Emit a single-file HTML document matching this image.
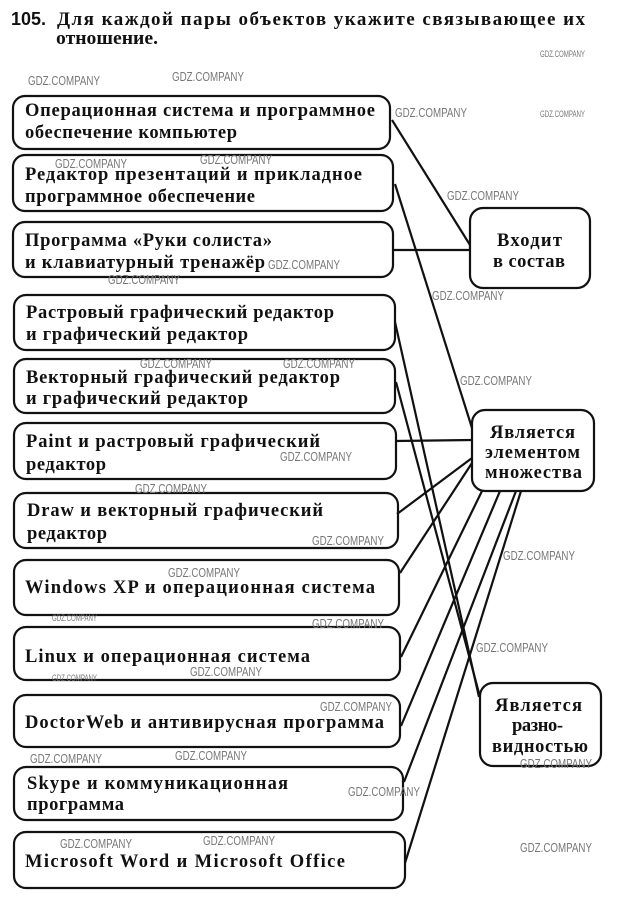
<!DOCTYPE html>
<html>
<head>
<meta charset="utf-8">
<style>
html,body{margin:0;padding:0;background:#fff;}
svg{display:block;}
.t{font-family:"Liberation Serif","Noto Serif CJK SC",serif;font-weight:bold;font-size:18.5px;fill:#111;}
.r{font-family:"Liberation Serif","Noto Serif CJK SC",serif;font-weight:bold;font-size:18.5px;fill:#111;}
.hd{font-family:"Liberation Serif","Noto Serif CJK SC",serif;font-weight:bold;font-size:19px;fill:#111;}
.h{font-family:"Liberation Sans",sans-serif;font-weight:bold;font-size:18px;fill:#111;}
.w{font-family:"Liberation Sans",sans-serif;font-size:13px;fill:#777;}
.ws{font-family:"Liberation Sans",sans-serif;font-size:9px;fill:#777;}
rect{fill:none;stroke:#111;stroke-width:2.2;}
line{stroke:#111;stroke-width:2.2;}
</style>
</head>
<body>
<svg width="624" height="905" viewBox="0 0 624 905" xmlns="http://www.w3.org/2000/svg">
<!-- Header -->
<text class="h" x="11" y="25" textLength="35" lengthAdjust="spacingAndGlyphs">105.</text>
<text class="hd" x="57" y="25" textLength="528" lengthAdjust="spacing">Для каждой пары объектов укажите связывающее их</text>
<text class="hd" x="56" y="44" textLength="102" lengthAdjust="spacingAndGlyphs">отношение.</text>

<!-- Left boxes -->
<rect x="13" y="96" width="377" height="53" rx="12"/>
<rect x="13" y="155" width="380" height="56" rx="12"/>
<rect x="13" y="222" width="380" height="55" rx="12"/>
<rect x="14" y="295" width="381" height="55" rx="12"/>
<rect x="14" y="359" width="381" height="54" rx="12"/>
<rect x="14" y="423" width="382" height="56" rx="12"/>
<rect x="14" y="493" width="384" height="55" rx="12"/>
<rect x="14" y="560" width="385" height="55" rx="12"/>
<rect x="14" y="627" width="386" height="53" rx="12"/>
<rect x="14" y="695" width="386" height="52" rx="12"/>
<rect x="14" y="767" width="389" height="53" rx="12"/>
<rect x="14" y="832" width="391" height="56" rx="12"/>

<!-- Right boxes -->
<rect x="470" y="208" width="120" height="80" rx="13"/>
<rect x="472" y="410" width="122" height="81" rx="13"/>
<rect x="480" y="683" width="121" height="83" rx="13"/>

<!-- Left box texts -->
<text class="t" x="25" y="116" textLength="350" lengthAdjust="spacing">Операционная система и программное</text>
<text class="t" x="25" y="138" textLength="212" lengthAdjust="spacing">обеспечение компьютер</text>

<text class="t" x="25" y="180" textLength="337" lengthAdjust="spacing">Редактор презентаций и прикладное</text>
<text class="t" x="25" y="202" textLength="230" lengthAdjust="spacing">программное обеспечение</text>

<text class="t" x="25" y="246" textLength="247" lengthAdjust="spacing">Программа «Руки солиста»</text>
<text class="t" x="25" y="268" textLength="240" lengthAdjust="spacing">и клавиатурный тренажёр</text>

<text class="t" x="26" y="318" textLength="308" lengthAdjust="spacing">Растровый графический редактор</text>
<text class="t" x="26" y="340" textLength="222" lengthAdjust="spacing">и графический редактор</text>

<text class="t" x="26" y="383" textLength="314" lengthAdjust="spacing">Векторный графический редактор</text>
<text class="t" x="26" y="404" textLength="222" lengthAdjust="spacing">и графический редактор</text>

<text class="t" x="26" y="447" textLength="294" lengthAdjust="spacing">Paint и растровый графический</text>
<text class="t" x="26" y="470" textLength="80" lengthAdjust="spacing">редактор</text>

<text class="t" x="27" y="516" textLength="296" lengthAdjust="spacing">Draw и векторный графический</text>
<text class="t" x="27" y="539" textLength="80" lengthAdjust="spacing">редактор</text>

<text class="t" x="25" y="593" textLength="350" lengthAdjust="spacing">Windows XP и операционная система</text>

<text class="t" x="25" y="662" textLength="285" lengthAdjust="spacing">Linux и операционная система</text>

<text class="t" x="25" y="728" textLength="359" lengthAdjust="spacing">DoctorWeb и антивирусная программа</text>

<text class="t" x="27" y="789" textLength="261" lengthAdjust="spacing">Skype и коммуникационная</text>
<text class="t" x="27" y="810" textLength="97" lengthAdjust="spacing">программа</text>

<text class="t" x="25" y="867" textLength="320" lengthAdjust="spacing">Microsoft Word и Microsoft Office</text>

<!-- Right box texts -->
<text class="r" x="497" y="246" textLength="65" lengthAdjust="spacing">Входит</text>
<text class="r" x="493" y="267" textLength="72" lengthAdjust="spacing">в состав</text>

<text class="r" x="490" y="438" textLength="85" lengthAdjust="spacing">Является</text>
<text class="r" x="485" y="458" textLength="95" lengthAdjust="spacing">элементом</text>
<text class="r" x="485" y="478" textLength="97" lengthAdjust="spacing">множества</text>

<text class="r" x="495" y="711" textLength="87" lengthAdjust="spacing">Является</text>
<text class="r" x="512" y="731" textLength="51" lengthAdjust="spacing">разно-</text>
<text class="r" x="492" y="752" textLength="96" lengthAdjust="spacing">видностью</text>

<!-- Connectors -->
<line x1="392" y1="120" x2="470" y2="245"/>
<line x1="393" y1="250" x2="470" y2="250"/>
<line x1="395" y1="184" x2="472" y2="428"/>
<line x1="395" y1="441" x2="472" y2="440"/>
<line x1="397" y1="514" x2="472" y2="458"/>
<line x1="400" y1="573" x2="472" y2="463"/>
<line x1="395" y1="322" x2="479" y2="697"/>
<line x1="396" y1="382" x2="480" y2="697"/>
<line x1="482" y1="491" x2="401" y2="657"/>
<line x1="500" y1="491" x2="401" y2="726"/>
<line x1="516" y1="491" x2="404" y2="782"/>
<line x1="521" y1="491" x2="405" y2="863"/>

<!-- Watermarks -->
<text class="w" x="28" y="85" textLength="72" lengthAdjust="spacingAndGlyphs">GDZ.COMPANY</text>
<text class="w" x="172" y="81" textLength="72" lengthAdjust="spacingAndGlyphs">GDZ.COMPANY</text>
<text class="w" x="395" y="117" textLength="72" lengthAdjust="spacingAndGlyphs">GDZ.COMPANY</text>
<text class="w" x="55" y="168" textLength="72" lengthAdjust="spacingAndGlyphs">GDZ.COMPANY</text>
<text class="w" x="200" y="164" textLength="72" lengthAdjust="spacingAndGlyphs">GDZ.COMPANY</text>
<text class="w" x="447" y="200" textLength="72" lengthAdjust="spacingAndGlyphs">GDZ.COMPANY</text>
<text class="w" x="268" y="269" textLength="72" lengthAdjust="spacingAndGlyphs">GDZ.COMPANY</text>
<text class="w" x="108" y="284" textLength="72" lengthAdjust="spacingAndGlyphs">GDZ.COMPANY</text>
<text class="w" x="432" y="300" textLength="72" lengthAdjust="spacingAndGlyphs">GDZ.COMPANY</text>
<text class="w" x="140" y="368" textLength="72" lengthAdjust="spacingAndGlyphs">GDZ.COMPANY</text>
<text class="w" x="283" y="368" textLength="72" lengthAdjust="spacingAndGlyphs">GDZ.COMPANY</text>
<text class="w" x="460" y="385" textLength="72" lengthAdjust="spacingAndGlyphs">GDZ.COMPANY</text>
<text class="w" x="280" y="461" textLength="72" lengthAdjust="spacingAndGlyphs">GDZ.COMPANY</text>
<text class="w" x="135" y="493" textLength="72" lengthAdjust="spacingAndGlyphs">GDZ.COMPANY</text>
<text class="w" x="312" y="545" textLength="72" lengthAdjust="spacingAndGlyphs">GDZ.COMPANY</text>
<text class="w" x="503" y="560" textLength="72" lengthAdjust="spacingAndGlyphs">GDZ.COMPANY</text>
<text class="w" x="168" y="577" textLength="72" lengthAdjust="spacingAndGlyphs">GDZ.COMPANY</text>
<text class="w" x="312" y="628" textLength="72" lengthAdjust="spacingAndGlyphs">GDZ.COMPANY</text>
<text class="w" x="476" y="652" textLength="72" lengthAdjust="spacingAndGlyphs">GDZ.COMPANY</text>
<text class="w" x="190" y="676" textLength="72" lengthAdjust="spacingAndGlyphs">GDZ.COMPANY</text>
<text class="w" x="320" y="711" textLength="72" lengthAdjust="spacingAndGlyphs">GDZ.COMPANY</text>
<text class="w" x="30" y="763" textLength="72" lengthAdjust="spacingAndGlyphs">GDZ.COMPANY</text>
<text class="w" x="175" y="760" textLength="72" lengthAdjust="spacingAndGlyphs">GDZ.COMPANY</text>
<text class="w" x="520" y="768" textLength="72" lengthAdjust="spacingAndGlyphs">GDZ.COMPANY</text>
<text class="w" x="348" y="796" textLength="72" lengthAdjust="spacingAndGlyphs">GDZ.COMPANY</text>
<text class="w" x="60" y="848" textLength="72" lengthAdjust="spacingAndGlyphs">GDZ.COMPANY</text>
<text class="w" x="203" y="845" textLength="72" lengthAdjust="spacingAndGlyphs">GDZ.COMPANY</text>
<text class="w" x="520" y="852" textLength="72" lengthAdjust="spacingAndGlyphs">GDZ.COMPANY</text>
<text class="ws" x="540" y="57" textLength="45" lengthAdjust="spacingAndGlyphs">GDZ.COMPANY</text>
<text class="ws" x="540" y="117" textLength="45" lengthAdjust="spacingAndGlyphs">GDZ.COMPANY</text>
<text class="ws" x="52" y="621" textLength="45" lengthAdjust="spacingAndGlyphs">GDZ.COMPANY</text>
<text class="ws" x="52" y="681" textLength="45" lengthAdjust="spacingAndGlyphs">GDZ.COMPANY</text>
</svg>
</body>
</html>
